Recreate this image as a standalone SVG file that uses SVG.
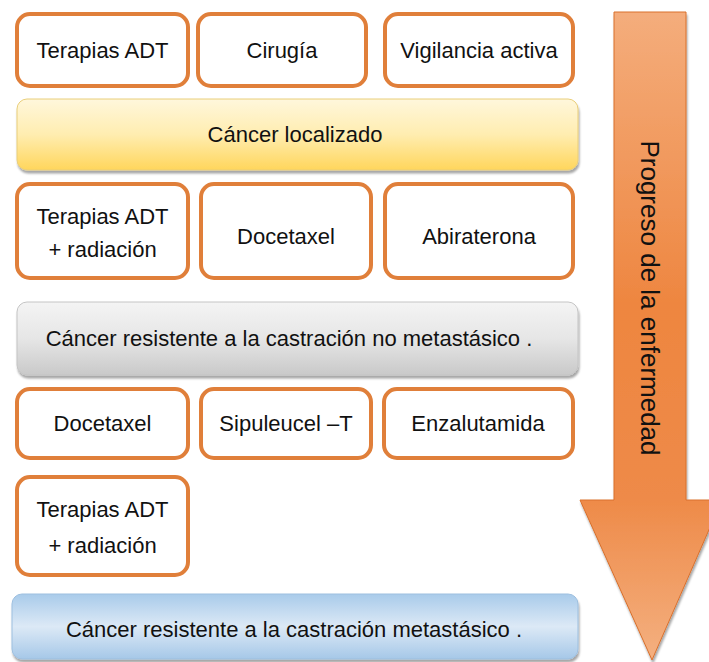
<svg xmlns="http://www.w3.org/2000/svg" width="709" height="662" viewBox="0 0 709 662">
<defs>
<style>
.box{fill:#fff;stroke:#E07F3A;stroke-width:4}
.t{font-family:"Liberation Sans","Open Sans",sans-serif;font-size:22px;fill:#111;text-anchor:middle}
</style>
<linearGradient id="gy" x1="0" y1="0" x2="0" y2="1"><stop offset="0" stop-color="#FFF7DC"/><stop offset="0.5" stop-color="#FFEDB0"/><stop offset="1" stop-color="#FFD65C"/></linearGradient>
<linearGradient id="gg" x1="0" y1="0" x2="0" y2="1"><stop offset="0" stop-color="#F4F4F4"/><stop offset="0.5" stop-color="#E6E6E6"/><stop offset="1" stop-color="#C9C9C9"/></linearGradient>
<linearGradient id="gb" x1="0" y1="0" x2="0" y2="1"><stop offset="0" stop-color="#A9CBEA"/><stop offset="0.5" stop-color="#DCE9F6"/><stop offset="1" stop-color="#A6C8E8"/></linearGradient>
<linearGradient id="ga" x1="0" y1="0" x2="0" y2="1"><stop offset="0" stop-color="#F4AD7C"/><stop offset="0.45" stop-color="#EE8640"/><stop offset="0.75" stop-color="#EE8A48"/><stop offset="1" stop-color="#F4B080"/></linearGradient>
<filter id="sh" x="-5%" y="-10%" width="110%" height="130%"><feDropShadow dx="1" dy="3" stdDeviation="1.2" flood-color="#000" flood-opacity="0.35"/></filter>
</defs>
<rect width="709" height="662" fill="#fff"/>

<g id="arrow">
<path d="M614,12 H686 V500 H722 L652,660 L580,500 H614 Z" fill="url(#ga)" stroke="#D9702C" stroke-width="1" filter="url(#sh)"/>
<text x="0" y="0" transform="translate(641,298) rotate(90)" class="t" style="font-size:26px">Progreso de la enfermedad</text>
</g>

<g id="n-adt1"><rect class="box" x="17" y="14" width="171" height="72" rx="13"/><text class="t" x="102.5" y="58">Terapias ADT</text></g>
<g id="n-cirugia"><rect class="box" x="198" y="14" width="168" height="72" rx="13"/><text class="t" x="282" y="58">Cirugía</text></g>
<g id="n-vigilancia"><rect class="box" x="385" y="14" width="188" height="72" rx="13"/><text class="t" x="479" y="58">Vigilancia activa</text></g>

<g id="n-localizado"><rect x="17" y="99" width="561" height="71" rx="10" fill="url(#gy)" stroke="#E9CE7A" stroke-width="1" filter="url(#sh)"/><text class="t" x="295" y="142">Cáncer localizado</text></g>

<g id="n-adt2"><rect class="box" x="17" y="184" width="171" height="94" rx="13"/><text class="t" x="102.5" y="224">Terapias ADT</text><text class="t" x="102.5" y="257">+ radiación</text></g>
<g id="n-docetaxel1"><rect class="box" x="201" y="184" width="170" height="94" rx="13"/><text class="t" x="286" y="244">Docetaxel</text></g>
<g id="n-abiraterona"><rect class="box" x="385" y="184" width="188" height="94" rx="13"/><text class="t" x="479" y="244">Abiraterona</text></g>

<g id="n-nometa"><rect x="17" y="302" width="561" height="73" rx="10" fill="url(#gg)" stroke="#C4C4C4" stroke-width="1" filter="url(#sh)"/><text class="t" x="289" y="346">Cáncer resistente a la castración no metastásico .</text></g>

<g id="n-docetaxel2"><rect class="box" x="17" y="389" width="171" height="69" rx="13"/><text class="t" x="102.5" y="431">Docetaxel</text></g>
<g id="n-sipuleucel"><rect class="box" x="201" y="389" width="170" height="69" rx="13"/><text class="t" x="286" y="431">Sipuleucel –T</text></g>
<g id="n-enzalutamida"><rect class="box" x="384" y="389" width="189" height="69" rx="13"/><text class="t" x="478" y="431">Enzalutamida</text></g>

<g id="n-adt3"><rect class="box" x="17" y="477" width="171" height="98" rx="13"/><text class="t" x="102.5" y="517">Terapias ADT</text><text class="t" x="102.5" y="553">+ radiación</text></g>

<g id="n-meta"><rect x="12" y="594" width="566" height="65" rx="10" fill="url(#gb)" stroke="#9DBFDF" stroke-width="1" filter="url(#sh)"/><text class="t" x="294" y="637">Cáncer resistente a la castración metastásico .</text></g>

<g id="connectors"></g>
</svg>
